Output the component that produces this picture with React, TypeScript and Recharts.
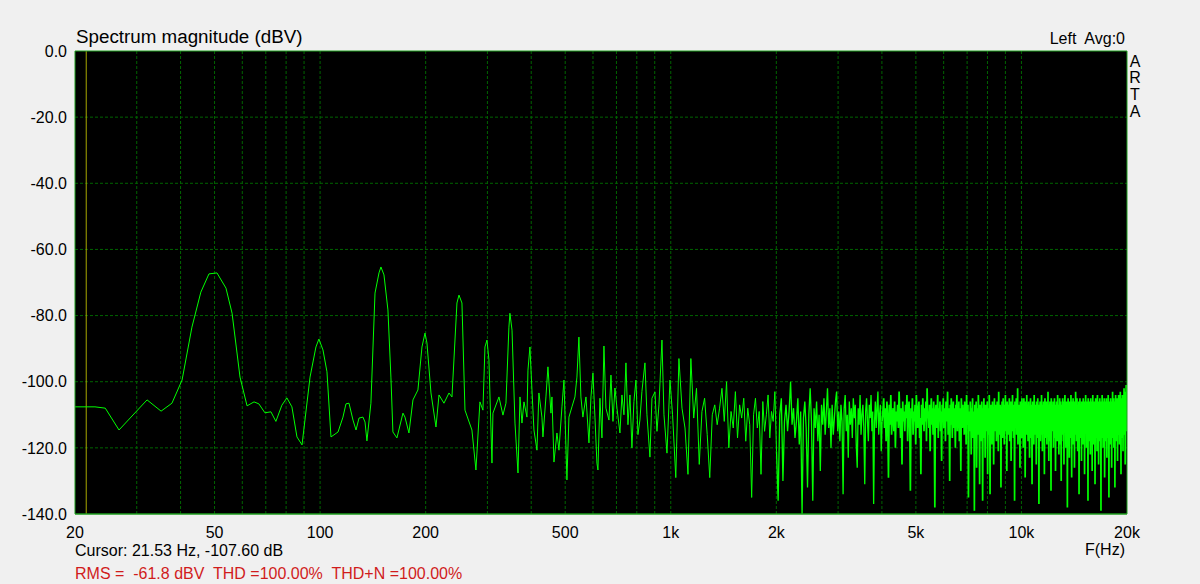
import React from 'react';
import { LineChart, Line, XAxis, YAxis, CartesianGrid, ReferenceLine } from 'recharts';

// ---- axis / grid values ----
const xTicks = [20, 50, 100, 200, 500, 1000, 2000, 5000, 10000, 20000];
const yTicks = [0, -20, -40, -60, -80, -100, -120, -140];
const gridHz = [30, 40, 50, 60, 70, 80, 90, 100, 200, 300, 400, 500, 600, 700, 800, 900, 1000, 2000, 3000, 4000, 5000, 6000, 7000, 8000, 9000, 10000];
const gridDb = [-20, -40, -60, -80, -100, -120];

// ---- cursor ----
const cursorHz = 21.53;

// ---- low frequency part (read point by point) ----
const lowHz = [
  20, 22.8, 24.4, 26.7, 32.1, 35.2, 37.8, 40.4, 43.1, 45.7, 48.2, 50.8, 53.9, 56.1, 59.1, 61.9, 64.8, 66.9, 69.6, 72.4,
  74.8, 77.8, 80.4, 83.1, 85.9, 88.8, 93.6, 97.3, 99.2, 101.9, 104.6, 107.4, 112.5, 116.2, 118.5, 120.9, 124.1, 126.6, 129.1, 132.5,
  134.3, 136.0, 139.6, 143.4, 147.2, 149.1, 152.1, 156.1, 159.2, 161.3, 165.6, 172.3, 174.6, 179.2, 184.0, 190.1, 195.2, 199.1, 201.7, 207.1,
  214.0, 218.3, 225.5, 233.1, 237.7, 245.6, 248.9, 253.8, 258.9, 271.0, 278.2, 285.6, 291.3, 295.2, 299.1, 303.0, 309.1, 311.1, 323.6, 332.2,
  338.8, 345.5, 347.8, 352.6, 359.5, 366.7, 371.5, 376.4, 381.4, 388.9, 391.5, 396.6, 401.9, 407.2, 415.3, 420.7, 429.1, 432.0, 440.6, 446.4,
  455.3, 458.3, 464.4, 473.6, 479.9, 489.4, 495.9, 505.7, 512.4, 522.6, 533.0, 540.0, 547.1, 554.3, 561.6, 573.0, 584.4, 592.1, 599.9, 607.8,
  615.8, 619.9, 628.1, 636.4, 644.8, 653.3, 666.4, 675.2, 684.1, 693.2, 702.4, 716.2, 725.7, 735.3, 745.0, 754.9, 764.9, 774.8, 785.1, 795.6,
  806.1, 816.6, 827.4, 844.0, 855.2, 872.2, 883.7, 901.4, 913.3, 925.4, 943.8, 956.3, 975.4, 994.8,
];
const lowDb = [
  -107.6, -107.6, -108.0, -114.6, -105.5, -108.9, -106.5, -99.5, -83.5, -72.9, -67.4, -67.1, -71.7, -79.3, -98.6, -107.3, -106.1, -106.7, -109.4, -109.1,
  -112.0, -107.1, -104.9, -107.6, -116.7, -119.1, -98.6, -89.5, -87.1, -90.4, -97.0, -116.7, -115.2, -110.7, -106.7, -106.5, -111.6, -114.6, -111.0, -110.7,
  -112.2, -117.9, -106.5, -73.2, -67.1, -65.3, -67.7, -78.3, -98.6, -115.2, -117.0, -109.5, -110.7, -115.5, -105.5, -102.5, -89.5, -85.3, -88.3, -103.4,
  -113.7, -104.0, -106.5, -103.4, -104.6, -76.2, -73.8, -76.2, -108.6, -114.6, -126.7, -106.1, -108.6, -89.5, -87.4, -93.4, -124.6, -109.5, -104.6, -110.1,
  -106.5, -83.5, -79.3, -84.4, -112.5, -127.6, -104.6, -112.5, -106.1, -110.7, -96.5, -89.5, -102.5, -114.6, -120.7, -103.4, -110.7, -116.7, -104.6, -95.5,
  -109.5, -104.6, -124.3, -115.5, -120.7, -107.6, -99.5, -129.7, -110.7, -107.6, -104.6, -98.6, -86.5, -104.6, -110.7, -104.6, -118.5, -104.6, -97.4, -110.7,
  -124.6, -126.7, -105, -117, -89.2, -108, -111.6, -98, -112, -101.9, -108, -115.5, -104, -110, -94.3, -113, -104, -120.0, -106, -99.5,
  -116, -111.6, -103, -94.3, -110, -122.8, -105, -103.1, -115, -107, -87.4, -110, -121.6, -99.5,
];

// ---- FFT bins above 1 kHz (bin width from the cursor readout) ----
const binHz = 21.53;
const firstBin = 47;
const bins1k2k = [
  -110, -129, -93, -108, -114, -128, -93, -111, -102, -125, -109, -105, -116, -129, -110, -107, -113, -108, -102, -112,
  -100, -120, -109, -114, -103, -117, -107, -111, -105, -118, -108, -113, -135, -110, -105, -114, -109, -128, -106, -115,
  -110, -104, -117, -109, -112, -103, -121,
];
const bins2k4k = [
  -136, -110, -105, -130, -112, -107, -115, -109, -100, -113, -108, -117, -112, -105, -119, -109, -140, -111, -106, -114,
  -132, -110, -102, -112, -136, -108, -114, -106, -118, -110, -127, -107, -113, -105, -116, -109, -102, -114, -108, -120,
  -107, -116, -111, -106, -103, -115, -109, -118, -107, -112, -134, -108, -104, -115, -110, -123, -106, -113, -108, -117,
  -105, -111, -107, -119, -126, -108, -113, -104, -116, -110, -107, -114, -131, -109, -105, -112, -118, -107, -111, -104,
  -115, -109, -137, -112, -106, -114, -108, -103, -116, -110, -107, -121, -112,
];
const bins4k8k = [
  -109, -105, -114, -108, -118, -106, -111, -129, -107, -113, -104, -116, -110, -108, -115, -106, -120, -109, -112, -107,
  -114, -103, -110, -117, -108, -125, -106, -112, -109, -115, -107, -111, -104, -118, -110, -106, -113, -133, -108, -111,
  -105, -116, -109, -112, -107, -119, -104, -110, -114, -108, -106, -117, -111, -128, -107, -113, -105, -110, -115, -108,
  -112, -106, -118, -102, -111, -109, -114, -107, -121, -110, -105, -113, -108, -116, -106, -112, -138, -109, -107, -114,
  -110, -104, -117, -108, -112, -106, -115, -109, -124, -107, -111, -105, -114, -110, -108, -118, -106, -112, -109, -103,
  -116, -108, -111, -130, -107, -113, -105, -110, -117, -109, -106, -114, -108, -112, -120, -107, -110, -104, -115, -109,
  -111, -106, -118, -108, -113, -127, -105, -110, -114, -107, -112, -109, -116, -106, -111, -108, -119, -104, -113, -110,
  -107, -135, -112, -109, -115, -106, -110, -122, -108, -113, -105, -117, -111, -109, -139, -107, -114, -110, -106, -126,
  -112, -108, -116, -104, -110, -113, -131, -107, -111, -118, -109, -106, -114, -136, -108, -112, -105, -117, -110, -123,
  -107, -113, -109, -115, -106, -128, -111, -108, -116, -104, -112, -134, -109, -107, -114, -110, -119, -106, -113, -108,
];
const bins8k14k = [
  -125, -111, -105, -115, -109, -112, -107, -118, -110, -106, -114, -108, -121, -103, -112, -109, -116, -107, -111, -132,
  -108, -113, -106, -117, -110, -105, -114, -109, -119, -107, -112, -104, -115, -110, -108, -127, -106, -113, -111, -116,
  -107, -110, -105, -118, -109, -113, -106, -124, -111, -108, -115, -104, -112, -109, -117, -107, -110, -136, -106, -114,
  -109, -111, -105, -116, -108, -113, -102, -119, -110, -107, -115, -109, -112, -126, -106, -114, -108, -111, -117, -105,
  -110, -113, -107, -120, -109, -105, -115, -111, -108, -129, -106, -112, -110, -116, -104, -113, -109, -107, -118, -111,
  -106, -114, -110, -123, -108, -112, -105, -117, -109, -111, -107, -131, -113, -106, -115, -110, -108, -119, -104, -112,
  -109, -116, -107, -113, -110, -125, -106, -111, -108, -117, -105, -114, -109, -112, -137, -107, -115, -110, -106, -118,
  -111, -108, -113, -104, -116, -109, -121, -107, -112, -110, -106, -115, -108, -128, -111, -105, -114, -109, -117, -107,
  -112, -106, -119, -110, -108, -113, -103, -116, -109, -124, -107, -111, -114, -106, -110, -118, -108, -133, -105, -112,
  -109, -115, -107, -111, -113, -106, -120, -110, -108, -114, -105, -117, -109, -112, -127, -107, -110, -115, -106, -113,
  -109, -118, -104, -111, -108, -116, -110, -122, -107, -113, -105, -112, -109, -119, -106, -111, -130, -108, -114, -110,
  -107, -116, -105, -112, -109, -118, -106, -125, -110, -113, -108, -104, -115, -111, -107, -120, -109, -112, -106, -117,
  -110, -138, -108, -113, -105, -115, -109, -111, -107, -123, -112, -106, -114, -110, -108, -117, -104, -113, -109, -129,
];
const bins14k20k = [
  -106, -111, -115, -108, -112, -105, -119, -110, -107, -114, -109, -126, -106, -112, -108, -116, -103, -111, -113, -107,
  -118, -109, -105, -114, -110, -121, -107, -112, -108, -115, -106, -134, -111, -109, -113, -105, -117, -110, -107, -112,
  -116, -108, -124, -106, -111, -109, -114, -107, -119, -110, -105, -113, -108, -117, -111, -106, -128, -109, -112, -107,
  -115, -104, -110, -113, -108, -120, -106, -112, -109, -116, -107, -111, -136, -105, -114, -110, -108, -118, -106, -113,
  -109, -111, -107, -122, -110, -105, -115, -108, -112, -117, -106, -110, -127, -109, -113, -104, -116, -108, -111, -107,
  -119, -110, -106, -114, -109, -112, -131, -107, -115, -105, -111, -108, -117, -110, -106, -113, -121, -109, -104, -112,
  -108, -116, -107, -111, -125, -106, -114, -110, -108, -118, -105, -112, -109, -115, -107, -111, -139, -108, -113, -106,
  -110, -117, -104, -112, -109, -114, -107, -120, -106, -111, -108, -116, -110, -105, -113, -129, -109, -107, -115, -111,
  -106, -118, -108, -112, -105, -114, -110, -123, -107, -109, -116, -106, -111, -113, -104, -117, -108, -110, -135, -107,
  -112, -109, -115, -106, -111, -108, -119, -105, -113, -110, -107, -116, -109, -126, -106, -112, -108, -114, -103, -111,
  -110, -117, -107, -113, -105, -120, -109, -111, -106, -115, -108, -132, -110, -107, -114, -104, -112, -109, -118, -106,
  -111, -108, -115, -105, -113, -110, -124, -107, -109, -116, -106, -112, -104, -114, -109, -111, -107, -119, -105, -113,
  -108, -110, -103, -115, -107, -112, -128, -106, -109, -114, -105, -111, -108, -117, -104, -110, -113, -106, -121, -109,
  -105, -112, -107, -114, -102, -110, -108, -116, -104, -111, -106, -125, -109, -103, -113, -107, -110, -101, -115, -105,
];

// build the three drawn segments (each overlaps the previous by one point so the trace is continuous)
const toBins = (vals: number[], start: number) => vals.map((db, i) => ({ f: (start + i) * binHz, db }));
const startA = firstBin;
const startB = startA + bins1k2k.length;
const startC = startB + bins2k4k.length;
const upperDb = [...bins4k8k, ...bins8k14k, ...bins14k20k];

const lowSeg = [...lowHz.map((f, i) => ({ f, db: lowDb[i] })), ...toBins(bins1k2k, startA)];
const midSeg = [...toBins(bins1k2k.slice(-1), startB - 1), ...toBins(bins2k4k, startB)];
const highSeg = [...toBins(bins2k4k.slice(-1), startC - 1), ...toBins(upperDb, startC)];

const FONT = "'Liberation Sans', Arial, sans-serif";
const GRID = '#006400';
const BORDER = '#1e9e1e';

const fmtHz = (v: number) => (v >= 1000 ? `${v / 1000}k` : `${v}`);
const fmtDb = (v: number) => v.toFixed(1);

export default function App() {
  return (
    <div style={{ position: 'absolute', left: 0, top: 0, width: 1200, height: 584, background: '#f0f0f0', fontFamily: FONT }}>
      <LineChart width={1200} height={584} margin={{ top: 50, right: 72, bottom: 40, left: 15 }}>
        <CartesianGrid
          fill="#000"
          fillOpacity={1}
          stroke={GRID}
          strokeDasharray="3 2"
          verticalValues={gridHz}
          horizontalValues={gridDb}
        />
        <XAxis
          dataKey="f"
          type="number"
          scale="log"
          domain={[20, 20000]}
          allowDataOverflow
          ticks={xTicks}
          interval={0}
          tickFormatter={fmtHz}
          height={30}
          tickSize={0}
          tickMargin={13}
          axisLine={{ stroke: BORDER, strokeWidth: 1.5 }}
          tick={{ fontSize: 16, fill: '#000', fontFamily: FONT }}
        />
        <XAxis
          xAxisId="top"
          orientation="top"
          dataKey="f"
          type="number"
          scale="log"
          domain={[20, 20000]}
          allowDataOverflow
          height={1}
          tick={false}
          tickLine={false}
          axisLine={{ stroke: BORDER }}
        />
        <YAxis
          type="number"
          domain={[-140, 0]}
          allowDataOverflow
          ticks={yTicks}
          interval={0}
          tickFormatter={fmtDb}
          width={60}
          tickSize={0}
          tickMargin={8}
          axisLine={{ stroke: BORDER }}
          tick={{ fontSize: 16, fill: '#000', fontFamily: FONT }}
        />
        <YAxis
          yAxisId="right"
          orientation="right"
          type="number"
          domain={[-140, 0]}
          width={1}
          tick={false}
          tickLine={false}
          axisLine={{ stroke: BORDER }}
        />
        <ReferenceLine x={cursorHz} stroke="#a8a800" strokeWidth={1} />
        <Line data={lowSeg} dataKey="db" stroke="#00ff00" strokeWidth={1} dot={false} activeDot={false} isAnimationActive={false} />
        <Line data={midSeg} dataKey="db" stroke="#00ff00" strokeWidth={1.3} dot={false} activeDot={false} isAnimationActive={false} />
        <Line data={highSeg} dataKey="db" stroke="#00ff00" strokeWidth={1.7} dot={false} activeDot={false} isAnimationActive={false} />
      </LineChart>
      <svg
        width={1200}
        height={584}
        style={{ position: 'absolute', left: 0, top: 0, pointerEvents: 'none' }}
        fontFamily={FONT}
      >
        <text x={76} y={43.3} fontSize={18.8} fill="#000">Spectrum magnitude (dBV)</text>
        <text x={1125} y={44} fontSize={16} fill="#000" textAnchor="end" style={{ whiteSpace: 'pre' }}>
          {'Left  Avg:0'}
        </text>
        <text x={1135} y={66.7} fontSize={16} fill="#000" textAnchor="middle">A</text>
        <text x={1135} y={83.3} fontSize={16} fill="#000" textAnchor="middle">R</text>
        <text x={1135} y={100} fontSize={16} fill="#000" textAnchor="middle">T</text>
        <text x={1135} y={117.3} fontSize={16} fill="#000" textAnchor="middle">A</text>
        <text x={75} y={556} fontSize={16} fill="#000">Cursor: 21.53 Hz, -107.60 dB</text>
        <text x={1125} y={555} fontSize={16} fill="#000" textAnchor="end">F(Hz)</text>
        <text x={75} y={578.7} fontSize={16} fill="#d01c1c" style={{ whiteSpace: 'pre' }}>
          {'RMS =  -61.8 dBV  THD =100.00%  THD+N =100.00%'}
        </text>
      </svg>
    </div>
  );
}
